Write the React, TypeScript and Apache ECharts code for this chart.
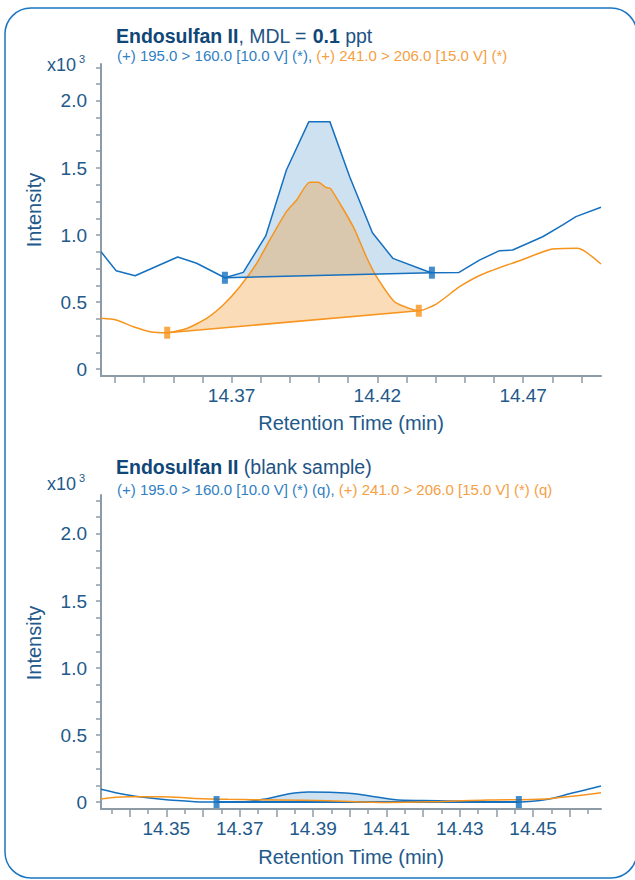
import { useEffect, useRef } from "react";
import * as echarts from "echarts";

// ---- Data (retention time in min, intensity in x10^3) ----
const topBlue: [number, number][] = [
  [14.3252, 0.875], [14.3304, 0.734], [14.3369, 0.696], [14.3515, 0.836], [14.358, 0.789],
  [14.3677, 0.681], [14.374, 0.721], [14.3817, 0.993], [14.3888, 1.485], [14.3965, 1.846],
  [14.4037, 1.846], [14.4105, 1.435], [14.4183, 1.017], [14.4253, 0.826], [14.4368, 0.731],
  [14.4387, 0.719], [14.448, 0.721], [14.455, 0.813], [14.4619, 0.883], [14.4664, 0.888],
  [14.4767, 0.987], [14.4836, 1.075], [14.4881, 1.137], [14.4967, 1.207],
];
const topOrange: [number, number][] = [
  [14.3252, 0.378], [14.3304, 0.366], [14.3363, 0.316], [14.342, 0.279], [14.3479, 0.271],
  [14.3546, 0.303], [14.3614, 0.378], [14.3671, 0.478], [14.3728, 0.614], [14.3786, 0.789],
  [14.3831, 0.963], [14.3888, 1.174], [14.3923, 1.261], [14.3968, 1.393], [14.3997, 1.393],
  [14.4023, 1.356], [14.4039, 1.348], [14.4117, 1.062], [14.4162, 0.838], [14.4197, 0.689],
  [14.4259, 0.502], [14.4342, 0.435], [14.4402, 0.485], [14.4482, 0.614], [14.4562, 0.709],
  [14.4687, 0.808], [14.4796, 0.893], [14.4887, 0.901], [14.4967, 0.784],
];
const topBlueMarks: [number, number][] = [[14.3677, 0.681], [14.4387, 0.719]];
const topOrangeMarks: [number, number][] = [[14.3479, 0.271], [14.4342, 0.435]];

const botBlue: [number, number][] = [
  [14.3322, 0.095], [14.3395, 0.052], [14.3487, 0.02], [14.3578, 0.003], [14.3637, 0.0],
  [14.3714, 0.003], [14.3778, 0.027], [14.3832, 0.06], [14.3887, 0.075], [14.396, 0.072],
  [14.4014, 0.062], [14.4068, 0.04], [14.4132, 0.015], [14.4241, 0.01], [14.4377, 0.003],
  [14.4461, 0.0], [14.454, 0.02], [14.4604, 0.065], [14.4685, 0.12],
];
const botOrange: [number, number][] = [
  [14.3322, 0.022], [14.3395, 0.04], [14.3487, 0.04], [14.3578, 0.027], [14.3669, 0.02],
  [14.3806, 0.015], [14.3942, 0.01], [14.4014, 0.003], [14.4104, -0.003], [14.4241, 0.003],
  [14.4377, 0.015], [14.4514, 0.02], [14.4577, 0.035], [14.4685, 0.07],
];
const botBlueMarks: [number, number][] = [[14.3637, 0.0], [14.4461, 0.0]];

// ---- Tick values ----
const yLabels = [0, 0.5, 1.0, 1.5, 2.0];
const yTicks = [0, 0.125, 0.25, 0.375, 0.5, 0.625, 0.75, 0.875, 1.0, 1.125, 1.25, 1.375, 1.5, 1.625, 1.75, 1.875, 2.0, 2.125, 2.25];
const topXLabels = [14.37, 14.42, 14.47];
const topXTicks = [14.33, 14.34, 14.35, 14.36, 14.37, 14.38, 14.39, 14.4, 14.41, 14.42, 14.43, 14.44, 14.45, 14.46, 14.47, 14.48, 14.49];
const botXLabels = [14.35, 14.37, 14.39, 14.41, 14.43, 14.45];
const botXMajorTicks = [14.34, 14.35, 14.36, 14.37, 14.38, 14.39, 14.4, 14.41, 14.42, 14.43, 14.44, 14.45, 14.46];
const botXMinorTicks = [14.335, 14.345, 14.355, 14.365, 14.375, 14.385, 14.395, 14.405, 14.415, 14.425, 14.435, 14.445, 14.455, 14.465];

const BLUE = "#1570bf";
const ORANGE = "#f7941d";
const BLUE_FILL = "rgba(21,112,191,0.21)";
const ORANGE_FILL = "rgba(242,146,33,0.32)";
const AXIS = "#8c9ba6";
const LABEL = "#22598a";
const FONT = "'Liberation Sans', Arial, sans-serif";

function between(pts: [number, number][], a: number, b: number) {
  return pts.filter((p) => p[0] >= a - 1e-9 && p[0] <= b + 1e-9);
}

function fillSeries(pts: [number, number][], xi: number, color: string, z: number) {
  return {
    type: "custom",
    xAxisIndex: xi,
    yAxisIndex: xi === 0 ? 0 : 1,
    clip: true,
    silent: true,
    z,
    data: [pts[0]],
    renderItem: (_p: any, api: any) => ({
      type: "polygon",
      shape: { points: pts.map((p) => api.coord(p)) },
      style: { fill: color, stroke: "none" },
    }),
  };
}

export default function App() {
  const ref = useRef<HTMLDivElement>(null);
  useEffect(() => {
    if (!ref.current) return;
    const chart = echarts.init(ref.current, undefined, { renderer: "svg" });

    const xMain = (gi: number, min: number, max: number, ticks: number[], labels: number[], tickLen: number) => ({
      type: "value",
      gridIndex: gi,
      position: "bottom",
      min,
      max,
      axisLine: { show: true, onZero: false, lineStyle: { color: AXIS, width: 2 } },
      axisTick: { show: true, customValues: ticks, length: tickLen, lineStyle: { color: AXIS, width: 1.5 } },
      axisLabel: {
        show: true,
        customValues: labels,
        margin: 10,
        color: LABEL,
        fontSize: 19,
        fontFamily: FONT,
        formatter: (v: number) => v.toFixed(2),
      },
      splitLine: { show: false },
    });
    const xMinor = (gi: number, min: number, max: number, ticks: number[]) => ({
      type: "value",
      gridIndex: gi,
      position: "bottom",
      offset: 0,
      min,
      max,
      axisLine: { show: false, onZero: false },
      axisTick: { show: true, customValues: ticks, length: 5, lineStyle: { color: AXIS, width: 1.5 } },
      axisLabel: { show: false },
      splitLine: { show: false },
    });
    const yAx = (gi: number, max: number) => ({
      type: "value",
      gridIndex: gi,
      position: "left",
      min: -0.052,
      max,
      axisLine: { show: true, onZero: false, lineStyle: { color: AXIS, width: 2 } },
      axisTick: { show: true, customValues: yTicks, length: 5, lineStyle: { color: AXIS, width: 1.5 } },
      axisLabel: {
        show: true,
        customValues: yLabels,
        margin: 14,
        color: LABEL,
        fontSize: 19,
        fontFamily: FONT,
        formatter: (v: number) => (v === 0 ? "0" : v.toFixed(1)),
      },
      splitLine: { show: false },
    });

    const line = (data: [number, number][], xi: number, yi: number, color: string, z: number, smooth: number | boolean = false, width = 1.5) => ({
      type: "line",
      xAxisIndex: xi,
      yAxisIndex: yi,
      data,
      smooth,
      symbol: "none",
      z,
      lineStyle: { color, width },
      silent: true,
    });
    const marks = (data: [number, number][], xi: number, yi: number, color: string) => ({
      type: "scatter",
      xAxisIndex: xi,
      yAxisIndex: yi,
      data,
      symbol: "rect",
      symbolSize: [6, 12],
      itemStyle: { color },
      z: 10,
      silent: true,
    });

    const topBlueFill = between(topBlue, topBlueMarks[0][0], topBlueMarks[1][0]);
    const topOrangeFill = between(topOrange, topOrangeMarks[0][0], topOrangeMarks[1][0]);
    const botBlueFill = between(botBlue, botBlueMarks[0][0], botBlueMarks[1][0]);

    const titleRich = {
      b: { fontSize: 19.5, fontWeight: "bold", color: "#0f4778", fontFamily: FONT },
      r: { fontSize: 19.5, fontWeight: "normal", color: "#1f5384", fontFamily: FONT },
      bl: { fontSize: 15, fontWeight: "normal", color: "#2f80c3", fontFamily: FONT },
      or: { fontSize: 15, fontWeight: "normal", color: "#f5a043", fontFamily: FONT },
    };

    const textEl = (x: number, y: number, text: string, size: number, extra: any = {}) => ({
      type: "text",
      x,
      y,
      silent: true,
      style: {
        text,
        fontSize: size,
        fontFamily: FONT,
        fill: LABEL,
        align: "left",
        verticalAlign: "middle",
        ...extra,
      },
    });

    chart.setOption({
      animation: false,
      backgroundColor: "#ffffff",
      title: [
        { left: 116, top: 26, padding: 0, text: "{b|Endosulfan II}{r|, MDL = }{b|0.1}{r| ppt}", textStyle: { fontWeight: "normal", rich: titleRich } },
        { left: 117, top: 48, padding: 0, text: "{bl|(+) 195.0 > 160.0 [10.0 V] (*), }{or|(+) 241.0 > 206.0 [15.0 V] (*)}", textStyle: { fontWeight: "normal", rich: titleRich } },
        { left: 116, top: 457, padding: 0, text: "{b|Endosulfan II}{r| (blank sample)}", textStyle: { fontWeight: "normal", rich: titleRich } },
        { left: 117, top: 482, padding: 0, text: "{bl|(+) 195.0 > 160.0 [10.0 V] (*) (q), }{or|(+) 241.0 > 206.0 [15.0 V] (*) (q)}", textStyle: { fontWeight: "normal", rich: titleRich } },
      ],
      graphic: [
        {
          type: "rect",
          silent: true,
          shape: { x: 5, y: 8, width: 632, height: 870, r: 26 },
          style: { fill: "none", stroke: "#1b76c3", lineWidth: 1.5 },
          z: -10,
        },
        textEl(47, 65, "x10", 18),
        textEl(79, 59, "3", 11),
        textEl(47, 484, "x10", 18),
        textEl(79, 478, "3", 11),
        { ...textEl(34, 210, "Intensity", 20, { align: "center" }), rotation: Math.PI / 2 },
        { ...textEl(34, 643, "Intensity", 20, { align: "center" }), rotation: Math.PI / 2 },
        textEl(351, 423, "Retention Time (min)", 20, { align: "center" }),
        textEl(351, 857, "Retention Time (min)", 20, { align: "center" }),
      ],
      grid: [
        { left: 101, right: 34, top: 64, height: 312 },
        { left: 101, right: 34, top: 495, height: 314 },
      ],
      xAxis: [
        xMain(0, 14.3252, 14.4967, topXTicks, topXLabels, 7),
        xMain(1, 14.3322, 14.4685, botXMajorTicks, botXLabels, 8),
        xMinor(1, 14.3322, 14.4685, botXMinorTicks),
      ],
      yAxis: [yAx(0, 2.276), yAx(1, 2.291)],
      series: [
        fillSeries(topBlueFill, 0, BLUE_FILL, 1),
        fillSeries(topOrangeFill, 0, ORANGE_FILL, 2),
        line(topOrange, 0, 0, ORANGE, 3, 0.2),
        line(topBlue, 0, 0, BLUE, 4),
        line(topOrangeMarks, 0, 0, ORANGE, 5),
        line(topBlueMarks, 0, 0, BLUE, 5),
        marks(topOrangeMarks, 0, 0, ORANGE),
        marks(topBlueMarks, 0, 0, BLUE),

        fillSeries(botBlueFill, 1, BLUE_FILL, 1),
        line(botBlue, 1, 1, BLUE, 4, 0.4),
        line(botBlueMarks, 1, 1, BLUE, 5, false, 2),
        line(botOrange, 1, 1, ORANGE, 6, 0.4),
        marks(botBlueMarks, 1, 1, BLUE),
      ],
    });

    return () => chart.dispose();
  }, []);

  return <div ref={ref} style={{ position: "absolute", left: 0, top: 0, width: 635, height: 880 }} />;
}
